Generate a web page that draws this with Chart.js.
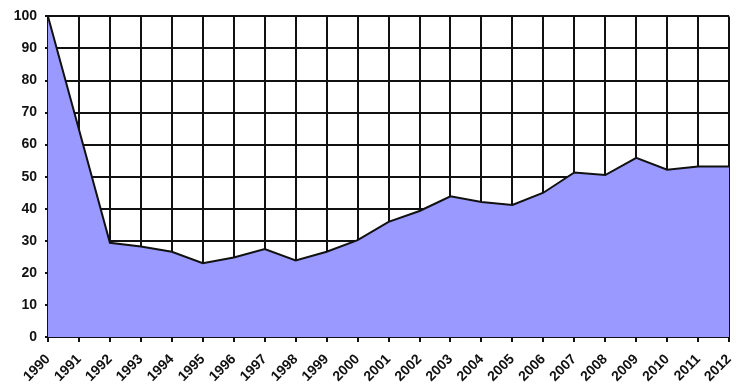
<!DOCTYPE html>
<html>
<head>
<meta charset="utf-8">
<script src="https://cdn.jsdelivr.net/npm/chart.js@4"></script>
<style>
  html, body { margin: 0; padding: 0; background: #fff; }
  #wrap { width: 750px; height: 387px; }
</style>
</head>
<body>
<div id="wrap"><canvas id="areaChart"></canvas></div>
<script>
const years = ['1990', '1991', '1992', '1993', '1994', '1995', '1996', '1997', '1998', '1999', '2000',
    '2001', '2002', '2003', '2004', '2005', '2006', '2007', '2008', '2009', '2010', '2011', '2012'];
const values = [100, 64.7, 29.4, 28.2, 26.6, 23.0, 24.8, 27.4, 23.9, 26.6, 30.2,
    35.9, 39.3, 43.9, 42.1, 41.2, 45.0, 51.3, 50.5, 55.9, 52.2, 53.2, 53.2];

const labelFont = { family: 'Liberation Sans', size: 14, weight: 'bold' };

const ctx = document.getElementById('areaChart').getContext('2d');
const areaChart = new Chart(ctx, {
    type: 'line',
    data: {
        labels: years,
        datasets: [{
            data: values,
            fill: 'origin',
            backgroundColor: '#9999ff',
            borderColor: '#111111',
            borderWidth: 2,
            pointRadius: 0,
            tension: 0
        }]
    },
    options: {
        responsive: true,
        maintainAspectRatio: false,
        animation: false,
        layout: {
            padding: { left: 0, right: 18, top: 16, bottom: 0 }
        },
        plugins: {
            legend: { display: false },
            tooltip: { enabled: false }
        },
        scales: {
            x: {
                offset: false,
                afterFit: scale => { scale.height = 50; },
                grid: {
                    color: '#111111',
                    lineWidth: 2,
                    tickLength: 5
                },
                border: { color: '#111111', width: 2 },
                ticks: {
                    autoSkip: false,
                    minRotation: 45,
                    maxRotation: 45,
                    color: '#111111',
                    padding: 9,
                    font: labelFont
                }
            },
            y: {
                min: 0,
                max: 100,
                afterFit: scale => { scale.width = 48; },
                grid: {
                    color: '#111111',
                    lineWidth: 2,
                    tickLength: 3
                },
                border: { color: '#111111', width: 2 },
                ticks: {
                    stepSize: 10,
                    color: '#111111',
                    padding: 8,
                    font: labelFont
                }
            }
        }
    }
});
</script>
</body>
</html>
